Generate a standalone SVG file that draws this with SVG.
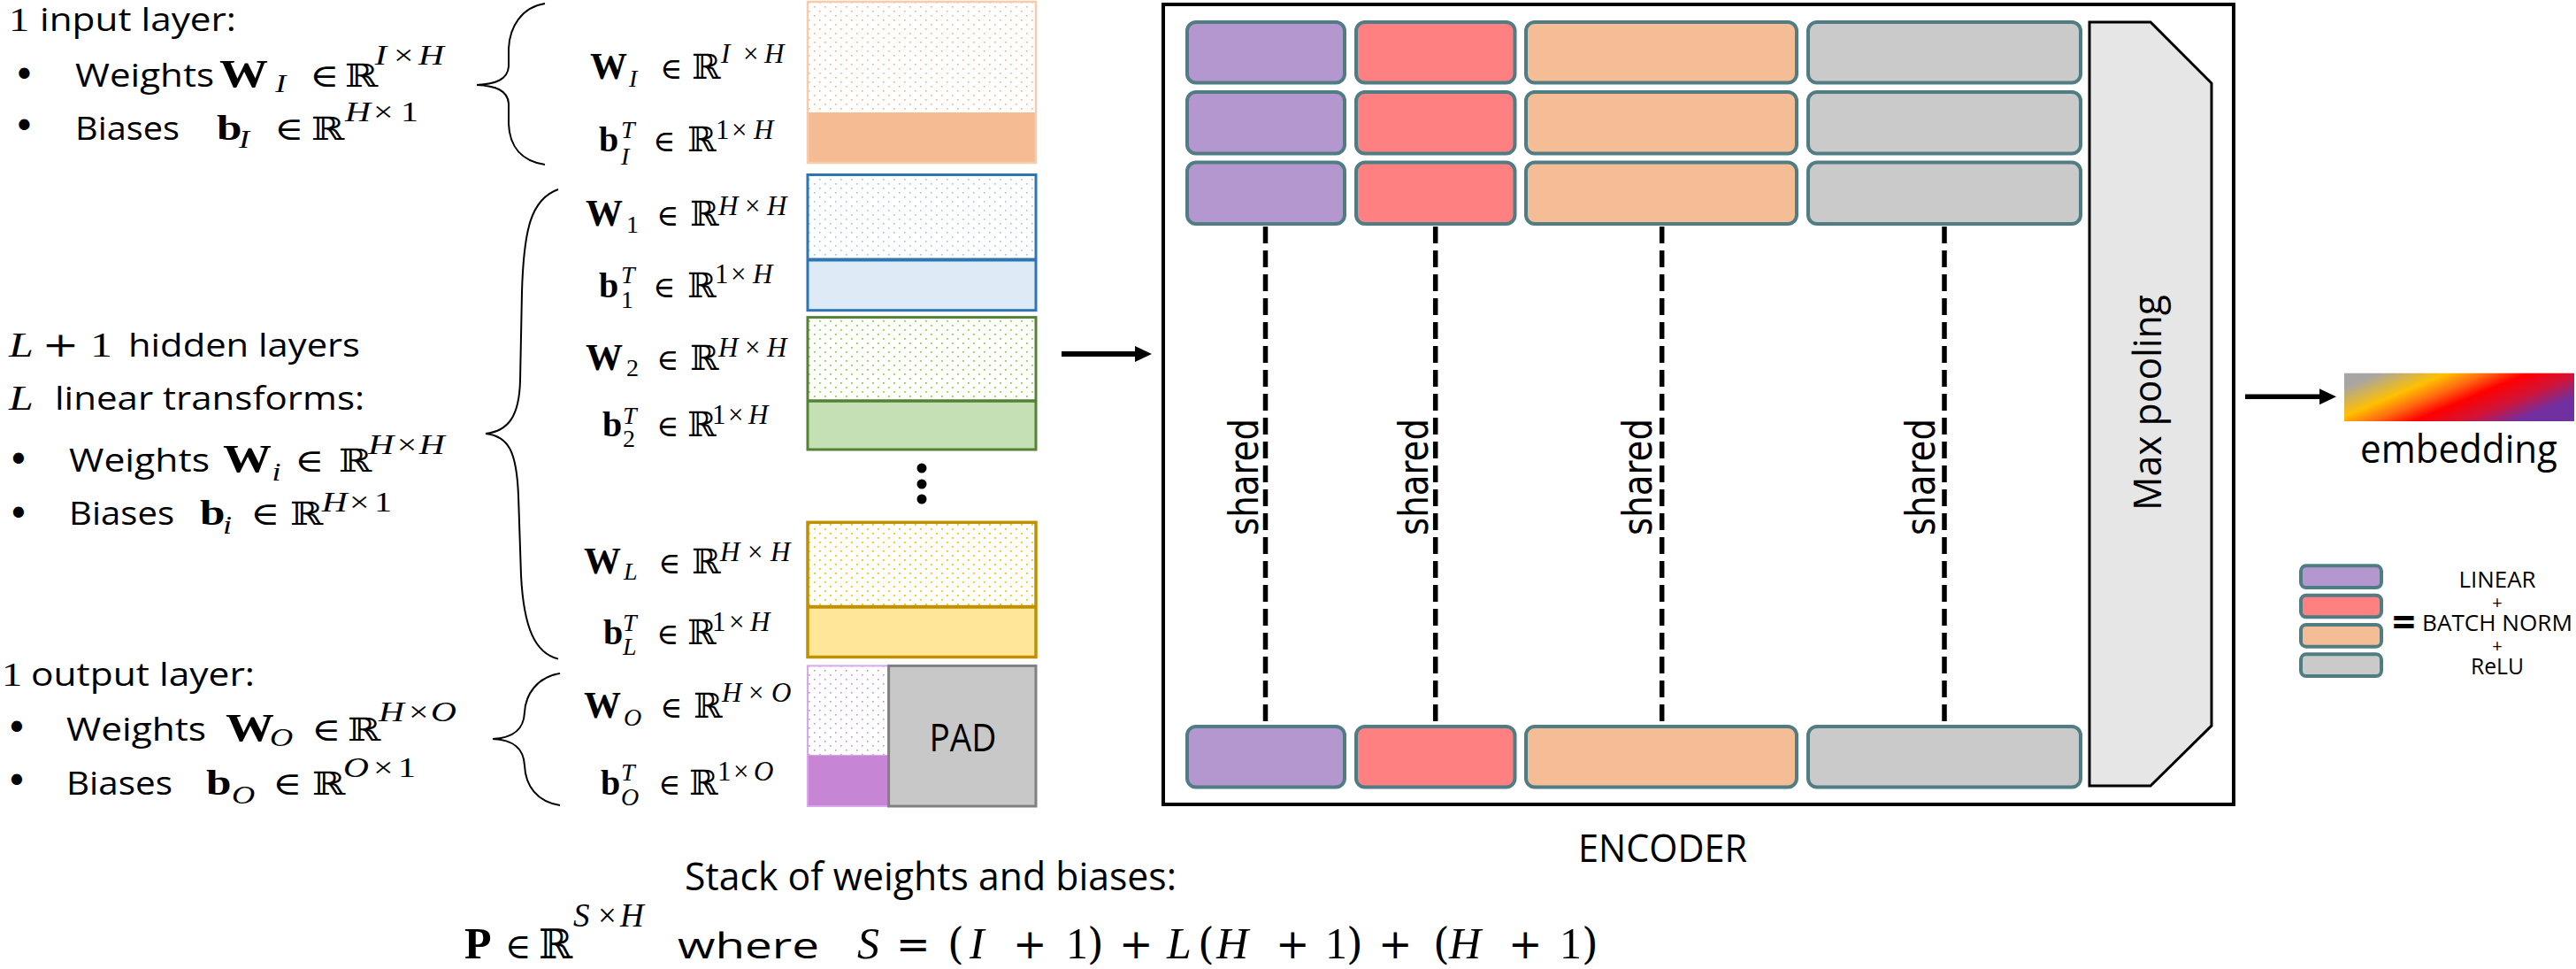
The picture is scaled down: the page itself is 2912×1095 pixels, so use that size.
<svg xmlns="http://www.w3.org/2000/svg" width="2912" height="1095" viewBox="0 0 2912 1095">
<defs>
<style>
.os{font-family:"Open Sans","Liberation Sans",sans-serif;fill:#000}
.dj{font-family:"DejaVu Sans","Liberation Sans",sans-serif;fill:#000}
.m{font-family:"Liberation Serif","DejaVu Serif",serif;fill:#000}
.bf{font-weight:bold}
.it{font-style:italic}
.sym{font-family:"DejaVu Serif","DejaVu Sans",serif;font-style:normal;font-weight:normal}
.blk{stroke:#507C84;stroke-width:4}
.pu{fill:#B497CF}.rd{fill:#FF8080}.or{fill:#F5BD95}.gy{fill:#CACACA}
.dash{stroke:#000;stroke-width:5.5;stroke-dasharray:19 8;fill:none}
.brace{stroke:#000;stroke-width:2;fill:none}
.arr{stroke:#000;fill:none;marker-end:url(#ah)}
</style>
<marker id="ah" markerUnits="userSpaceOnUse" markerWidth="19" markerHeight="18" refX="0" refY="9" orient="auto" viewBox="0 0 19 18"><path d="M0,0 L19,9 L0,18 z" fill="#000"/></marker>
<pattern id="dotOr" width="12" height="10" patternUnits="userSpaceOnUse"><rect width="12" height="10" fill="#fff"/><rect x="2" y="2" width="1.6" height="1.6" fill="#F4B183"/><rect x="8" y="7" width="1.6" height="1.6" fill="#F4B183"/></pattern>
<pattern id="dotBl" width="12" height="10" patternUnits="userSpaceOnUse"><rect width="12" height="10" fill="#fff"/><rect x="2" y="2" width="1.6" height="1.6" fill="#9DC3E6"/><rect x="8" y="7" width="1.6" height="1.6" fill="#9DC3E6"/></pattern>
<pattern id="dotGr" width="12" height="10" patternUnits="userSpaceOnUse"><rect width="12" height="10" fill="#fff"/><rect x="2" y="2" width="1.8" height="1.8" fill="#92D050"/><rect x="8" y="7" width="1.8" height="1.8" fill="#92D050"/></pattern>
<pattern id="dotYe" width="12" height="10" patternUnits="userSpaceOnUse"><rect width="12" height="10" fill="#fff"/><rect x="2" y="2" width="1.8" height="1.8" fill="#FFC000"/><rect x="8" y="7" width="1.8" height="1.8" fill="#FFC000"/></pattern>
<pattern id="dotPu" width="12" height="10" patternUnits="userSpaceOnUse"><rect width="12" height="10" fill="#fff"/><rect x="2" y="2" width="1.6" height="1.6" fill="#C58ED8"/><rect x="8" y="7" width="1.6" height="1.6" fill="#C58ED8"/></pattern>
<linearGradient id="emb" x1="0" y1="0" x2="1" y2="0.5">
<stop offset="0" stop-color="#A6A6A6"/><stop offset="0.12" stop-color="#A8A6A2"/><stop offset="0.36" stop-color="#FFC000"/><stop offset="0.5" stop-color="#FF6A10"/><stop offset="0.64" stop-color="#FF0000"/><stop offset="0.82" stop-color="#D01438"/><stop offset="1" stop-color="#7030A0"/>
</linearGradient>
</defs>
<rect width="2912" height="1095" fill="#fff"/>

<!-- bullets -->
<g id="bullets" class="dj" font-size="42" text-anchor="middle">
<text x="27.5" y="98.5">•</text><text x="27.5" y="157">•</text>
<text x="21" y="533.5">•</text><text x="21" y="595">•</text>
<text x="19" y="837">•</text><text x="19" y="897">•</text>
</g>

<g transform="scale(1.25 1)">
<g id="input-layer-text">
<text class="m" x="8" y="35" font-size="37">1</text>
<text class="os" x="36" y="35" font-size="37" textLength="177.6" lengthAdjust="spacingAndGlyphs">input layer:</text>
<text class="os" x="68" y="98" font-size="37" textLength="125.6" lengthAdjust="spacingAndGlyphs">Weights</text>
<text class="m" font-size="41"><tspan x="198.4" y="98" class="bf" font-size="44">W</tspan><tspan x="249" y="104" class="it" font-size="29">I</tspan><tspan x="280" y="98" class="sym" font-size="36">∈</tspan><tspan x="312" y="98" class="sym" font-size="36">ℝ</tspan><tspan x="339" y="73.3" class="it" font-size="32">I</tspan><tspan x="356" y="73.3" font-size="32">×</tspan><tspan x="378.4" y="73.3" class="it" font-size="32">H</tspan></text>
<text class="os" x="68" y="158.3" font-size="37" textLength="94.4" lengthAdjust="spacingAndGlyphs">Biases</text>
<text class="m" font-size="41"><tspan x="196" y="158.3" class="bf">b</tspan><tspan x="216" y="167" class="it" font-size="29">I</tspan><tspan x="248" y="158.3" class="sym" font-size="36">∈</tspan><tspan x="281.6" y="158.3" class="sym" font-size="36">ℝ</tspan><tspan x="312" y="136.7" class="it" font-size="32">H</tspan><tspan x="337.6" y="136.7" font-size="32">×</tspan><tspan x="362.4" y="136.7" font-size="32">1</tspan></text>
</g>
<g id="hidden-layers-text">
<text class="m" font-size="40"><tspan x="8" y="403.3" class="it">L</tspan><tspan x="38" y="403.3" class="sym">+</tspan><tspan x="81.6" y="403.3">1</tspan></text>
<text class="os" x="116" y="403.3" font-size="37" textLength="209.6" lengthAdjust="spacingAndGlyphs">hidden layers</text>
<text class="m it" x="8" y="463.3" font-size="40">L</text>
<text class="os" x="49.6" y="463.3" font-size="37" textLength="280" lengthAdjust="spacingAndGlyphs">linear transforms:</text>
<text class="os" x="62.4" y="533.3" font-size="37" textLength="127.2" lengthAdjust="spacingAndGlyphs">Weights</text>
<text class="m" font-size="41"><tspan x="201.6" y="533.3" class="bf" font-size="44">W</tspan><tspan x="246" y="543" class="it" font-size="29">i</tspan><tspan x="266.4" y="533.3" class="sym" font-size="36">∈</tspan><tspan x="306.4" y="533.3" class="sym" font-size="36">ℝ</tspan><tspan x="333" y="513" class="it" font-size="32">H</tspan><tspan x="359" y="513" font-size="32">×</tspan><tspan x="379" y="513" class="it" font-size="32">H</tspan></text>
<text class="os" x="62.4" y="593.3" font-size="37" textLength="95.2" lengthAdjust="spacingAndGlyphs">Biases</text>
<text class="m" font-size="41"><tspan x="180.8" y="593.3" class="bf">b</tspan><tspan x="201.6" y="603" class="it" font-size="29">i</tspan><tspan x="226.4" y="593.3" class="sym" font-size="36">∈</tspan><tspan x="262.4" y="593.3" class="sym" font-size="36">ℝ</tspan><tspan x="291" y="578.3" class="it" font-size="32">H</tspan><tspan x="316" y="578.3" font-size="32">×</tspan><tspan x="338.4" y="578.3" font-size="32">1</tspan></text>
</g>
<g id="output-layer-text">
<text class="m" x="1.6" y="775" font-size="37">1</text>
<text class="os" x="28" y="775" font-size="37" textLength="202.4" lengthAdjust="spacingAndGlyphs">output layer:</text>
<text class="os" x="60" y="836.7" font-size="37" textLength="126.4" lengthAdjust="spacingAndGlyphs">Weights</text>
<text class="m" font-size="41"><tspan x="204" y="836.7" class="bf" font-size="44">W</tspan><tspan x="244" y="843" class="it" font-size="29">O</tspan><tspan x="281.6" y="836.7" class="sym" font-size="36">∈</tspan><tspan x="314.4" y="836.7" class="sym" font-size="36">ℝ</tspan><tspan x="342.5" y="815" class="it" font-size="32">H</tspan><tspan x="369.6" y="815" font-size="32">×</tspan><tspan x="389.6" y="815" class="it" font-size="32">O</tspan></text>
<text class="os" x="60" y="898.3" font-size="37" textLength="96" lengthAdjust="spacingAndGlyphs">Biases</text>
<text class="m" font-size="41"><tspan x="186.4" y="898.3" class="bf">b</tspan><tspan x="209.6" y="908" class="it" font-size="29">O</tspan><tspan x="246.4" y="898.3" class="sym" font-size="36">∈</tspan><tspan x="282.4" y="898.3" class="sym" font-size="36">ℝ</tspan><tspan x="310.5" y="878" class="it" font-size="32">O</tspan><tspan x="337.6" y="878" font-size="32">×</tspan><tspan x="360" y="878" font-size="32">1</tspan></text>
</g>
</g>

<!-- parameter labels (middle column) -->
<g id="param-labels" class="m" font-size="40">
<text><tspan x="667" y="88.6" class="bf" font-size="42">W</tspan><tspan x="711" y="98" class="it" font-size="28">I</tspan><tspan x="746" y="88.6" class="sym" font-size="34">∈</tspan><tspan x="782" y="88.6" class="sym" font-size="39">ℝ</tspan><tspan x="815" y="71.4" class="it" font-size="31">I</tspan><tspan x="840" y="71.4" font-size="31">×</tspan><tspan x="864" y="71.4" class="it" font-size="31">H</tspan></text>
<text><tspan x="677" y="171.4" class="bf">b</tspan><tspan x="702" y="156" class="it" font-size="28">T</tspan><tspan x="702" y="185.7" class="it" font-size="28">I</tspan><tspan x="738" y="171.4" class="sym" font-size="34">∈</tspan><tspan x="777" y="171.4" class="sym" font-size="39">ℝ</tspan><tspan x="809" y="157" font-size="31">1</tspan><tspan x="827" y="157" font-size="31">×</tspan><tspan x="852" y="157" class="it" font-size="31">H</tspan></text>
<text><tspan x="662" y="255.4" class="bf" font-size="42">W</tspan><tspan x="708" y="262.5" font-size="28">1</tspan><tspan x="742" y="255.4" class="sym" font-size="34">∈</tspan><tspan x="780" y="255.4" class="sym" font-size="39">ℝ</tspan><tspan x="812" y="243" class="it" font-size="31">H</tspan><tspan x="842" y="243" font-size="31">×</tspan><tspan x="867" y="243" class="it" font-size="31">H</tspan></text>
<text><tspan x="677" y="335.7" class="bf">b</tspan><tspan x="702" y="320" class="it" font-size="28">T</tspan><tspan x="702" y="348" font-size="28">1</tspan><tspan x="738" y="335.7" class="sym" font-size="34">∈</tspan><tspan x="777" y="335.7" class="sym" font-size="39">ℝ</tspan><tspan x="808" y="319.6" font-size="31">1</tspan><tspan x="826" y="319.6" font-size="31">×</tspan><tspan x="851" y="319.6" class="it" font-size="31">H</tspan></text>
<text><tspan x="662" y="418" class="bf" font-size="42">W</tspan><tspan x="708" y="425" font-size="28">2</tspan><tspan x="742" y="418" class="sym" font-size="34">∈</tspan><tspan x="780" y="418" class="sym" font-size="39">ℝ</tspan><tspan x="812" y="403" class="it" font-size="31">H</tspan><tspan x="842" y="403" font-size="31">×</tspan><tspan x="867" y="403" class="it" font-size="31">H</tspan></text>
<text><tspan x="681" y="492.9" class="bf">b</tspan><tspan x="704" y="478.6" class="it" font-size="28">T</tspan><tspan x="704" y="505" font-size="28">2</tspan><tspan x="742" y="492.9" class="sym" font-size="34">∈</tspan><tspan x="777" y="492.9" class="sym" font-size="39">ℝ</tspan><tspan x="805" y="478.6" font-size="31">1</tspan><tspan x="823" y="478.6" font-size="31">×</tspan><tspan x="846" y="478.6" class="it" font-size="31">H</tspan></text>
<text><tspan x="660" y="648" class="bf" font-size="42">W</tspan><tspan x="705" y="655" class="it" font-size="28">L</tspan><tspan x="744" y="648" class="sym" font-size="34">∈</tspan><tspan x="782" y="648" class="sym" font-size="39">ℝ</tspan><tspan x="814" y="633.8" class="it" font-size="31">H</tspan><tspan x="845" y="633.8" font-size="31">×</tspan><tspan x="871" y="633.8" class="it" font-size="31">H</tspan></text>
<text><tspan x="682" y="727.6" class="bf">b</tspan><tspan x="704" y="712.7" class="it" font-size="28">T</tspan><tspan x="704" y="740" class="it" font-size="28">L</tspan><tspan x="742" y="727.6" class="sym" font-size="34">∈</tspan><tspan x="777" y="727.6" class="sym" font-size="39">ℝ</tspan><tspan x="805" y="712.7" font-size="31">1</tspan><tspan x="824" y="712.7" font-size="31">×</tspan><tspan x="848" y="712.7" class="it" font-size="31">H</tspan></text>
<text><tspan x="660" y="810.8" class="bf" font-size="42">W</tspan><tspan x="705" y="819.6" class="it" font-size="28">O</tspan><tspan x="746" y="810.8" class="sym" font-size="34">∈</tspan><tspan x="784" y="810.8" class="sym" font-size="39">ℝ</tspan><tspan x="816" y="793" class="it" font-size="31">H</tspan><tspan x="846" y="793" font-size="31">×</tspan><tspan x="872" y="793" class="it" font-size="31">O</tspan></text>
<text><tspan x="679" y="897.5" class="bf">b</tspan><tspan x="702" y="881.6" class="it" font-size="28">T</tspan><tspan x="702" y="910" class="it" font-size="28">O</tspan><tspan x="744" y="897.5" class="sym" font-size="34">∈</tspan><tspan x="779" y="897.5" class="sym" font-size="39">ℝ</tspan><tspan x="811" y="881.6" font-size="31">1</tspan><tspan x="829" y="881.6" font-size="31">×</tspan><tspan x="852" y="881.6" class="it" font-size="31">O</tspan></text>
</g>

<!-- parameter blocks -->
<g id="param-input">
<rect x="913" y="2" width="258" height="125" fill="url(#dotOr)"/>
<rect x="913" y="127" width="258" height="57" fill="#F5BC94"/>
<rect x="913" y="2" width="258" height="182" fill="none" stroke="#F8CBAD" stroke-width="2.5"/>
</g>
<g id="param-hidden1">
<rect x="913" y="197.5" width="258" height="96" fill="url(#dotBl)"/>
<rect x="913" y="293.6" width="258" height="57" fill="#DEEBF7"/>
<rect x="913" y="197.5" width="258" height="153.2" fill="none" stroke="#2E75B6" stroke-width="3"/>
<line x1="913" y1="293.6" x2="1171" y2="293.6" stroke="#2E75B6" stroke-width="4"/>
</g>
<g id="param-hidden2">
<rect x="913" y="358.6" width="258" height="94.3" fill="url(#dotGr)"/>
<rect x="913" y="452.9" width="258" height="55.1" fill="#C5E0B4"/>
<rect x="913" y="358.6" width="258" height="149.4" fill="none" stroke="#548235" stroke-width="3"/>
<line x1="913" y1="452.9" x2="1171" y2="452.9" stroke="#548235" stroke-width="3.5"/>
</g>
<g id="param-ellipsis" fill="#000">
<circle cx="1042" cy="529" r="5.5"/><circle cx="1042" cy="547" r="5.5"/><circle cx="1042" cy="564" r="5.5"/>
</g>
<g id="param-hiddenL">
<rect x="913" y="590.3" width="258" height="95.5" fill="url(#dotYe)"/>
<rect x="913" y="685.8" width="258" height="56.7" fill="#FFE699"/>
<rect x="913" y="590.3" width="258" height="152.2" fill="none" stroke="#BF9000" stroke-width="3.5"/>
<line x1="913" y1="685.8" x2="1171" y2="685.8" stroke="#BF9000" stroke-width="4"/>
</g>
<g id="param-output">
<rect x="913" y="752.4" width="91.6" height="100.9" fill="url(#dotPu)"/>
<rect x="913" y="853.3" width="91.6" height="57.7" fill="#C785D6"/>
<rect x="913" y="752.4" width="91.6" height="158.6" fill="none" stroke="#D9A8EA" stroke-width="2"/>
<rect x="1004.6" y="752.4" width="166.4" height="158.6" fill="#C8C8C8" stroke="#808080" stroke-width="3"/>
<text class="os" x="1050.5" y="848.7" font-size="43" textLength="76" lengthAdjust="spacingAndGlyphs">PAD</text>
</g>

<!-- encoder -->
<g id="encoder">
<rect x="1315" y="5" width="1210" height="904" fill="#fff" stroke="#000" stroke-width="4"/>
<text class="os" x="1784" y="973.6" font-size="44" textLength="191" lengthAdjust="spacingAndGlyphs">ENCODER</text>
</g>
<g id="enc-row1">
<rect class="blk pu" x="1342" y="25" width="178" height="68.6" rx="10"/>
<rect class="blk rd" x="1533" y="25" width="179.5" height="68.6" rx="10"/>
<rect class="blk or" x="1725" y="25" width="306" height="68.6" rx="10"/>
<rect class="blk gy" x="2044" y="25" width="308" height="68.6" rx="10"/>
</g>
<g id="enc-row2">
<rect class="blk pu" x="1342" y="104" width="178" height="69.6" rx="10"/>
<rect class="blk rd" x="1533" y="104" width="179.5" height="69.6" rx="10"/>
<rect class="blk or" x="1725" y="104" width="306" height="69.6" rx="10"/>
<rect class="blk gy" x="2044" y="104" width="308" height="69.6" rx="10"/>
</g>
<g id="enc-row3">
<rect class="blk pu" x="1342" y="183.6" width="178" height="69.4" rx="10"/>
<rect class="blk rd" x="1533" y="183.6" width="179.5" height="69.4" rx="10"/>
<rect class="blk or" x="1725" y="183.6" width="306" height="69.4" rx="10"/>
<rect class="blk gy" x="2044" y="183.6" width="308" height="69.4" rx="10"/>
</g>
<g id="enc-rowN">
<rect class="blk pu" x="1342" y="821" width="178" height="68.5" rx="10"/>
<rect class="blk rd" x="1533" y="821" width="179.5" height="68.5" rx="10"/>
<rect class="blk or" x="1725" y="821" width="306" height="68.5" rx="10"/>
<rect class="blk gy" x="2044" y="821" width="308" height="68.5" rx="10"/>
</g>
<g id="maxpool">
<polygon points="2362,25 2431,25 2500,94 2500,820 2431,888 2362,888" fill="#E6E6E6" stroke="#000" stroke-width="3"/>
<text class="os" transform="translate(2443 455) rotate(-90)" text-anchor="middle" font-size="44" textLength="244" lengthAdjust="spacingAndGlyphs">Max pooling</text>
</g>

<!-- connectors -->
<g id="connectors">
<path class="brace" d="M616,4 C590,8 576,30 575,55 L575,75 C574,90 560,95 539,96 C560,97 574,102 575,117 L575,140 C576,166 590,182 616,186"/>
<path class="brace" d="M631,214 C600,225 592,260 590,330 L588,430 C587,470 575,487 549,490 C575,493 584,510 586,560 L589,650 C592,710 605,738 631,744.6"/>
<path class="brace" d="M633,761 C607,765 594,785 593,805 C592,825 580,834 557,835 C580,836 592,845 593,865 C594,888 607,906 633,910"/>
<line class="arr" x1="1200" y1="400" x2="1283" y2="400" stroke-width="6"/>
<line class="arr" x1="2538" y1="448.3" x2="2622" y2="448.3" stroke-width="5.5"/>
<line class="dash" x1="1430.5" y1="256" x2="1430.5" y2="821"/>
<line class="dash" x1="1622.7" y1="256" x2="1622.7" y2="821"/>
<line class="dash" x1="1878.7" y1="256" x2="1878.7" y2="821"/>
<line class="dash" x1="2198" y1="256" x2="2198" y2="821"/>
</g>
<g id="shared-labels" class="dj" font-size="46" text-anchor="middle">
<text transform="translate(1422 539) rotate(-90)" textLength="132" lengthAdjust="spacingAndGlyphs">shared</text>
<text transform="translate(1614 539) rotate(-90)" textLength="132" lengthAdjust="spacingAndGlyphs">shared</text>
<text transform="translate(1867 539) rotate(-90)" textLength="132" lengthAdjust="spacingAndGlyphs">shared</text>
<text transform="translate(2187 539) rotate(-90)" textLength="132" lengthAdjust="spacingAndGlyphs">shared</text>
</g>

<g id="embedding">
<rect x="2650" y="421.7" width="260" height="54.3" fill="url(#emb)"/>
<text class="os" x="2668" y="523.3" font-size="43" textLength="223" lengthAdjust="spacingAndGlyphs">embedding</text>
</g>

<g id="legend">
<rect class="blk pu" x="2601" y="639.3" width="91" height="24.7" rx="6" stroke-width="3.5"/>
<rect class="blk rd" x="2601" y="672.7" width="91" height="24.6" rx="6" stroke-width="3.5"/>
<rect class="blk or" x="2601" y="706" width="91" height="24.7" rx="6" stroke-width="3.5"/>
<rect class="blk gy" x="2601" y="739.3" width="91" height="24.7" rx="6" stroke-width="3.5"/>
<text class="os" x="2717.5" y="720" font-size="46" font-weight="bold" text-anchor="middle">=</text>
<g class="os" font-size="26" text-anchor="middle">
<text x="2823" y="664" textLength="87" lengthAdjust="spacingAndGlyphs">LINEAR</text>
<text x="2823" y="688" font-size="20">+</text>
<text x="2823" y="713.3" textLength="170" lengthAdjust="spacingAndGlyphs">BATCH NORM</text>
<text x="2823" y="737" font-size="20">+</text>
<text x="2823" y="761.7" textLength="60" lengthAdjust="spacingAndGlyphs">ReLU</text>
</g>
</g>

<g id="stack-label">
<text class="os" x="774" y="1005.5" font-size="44" textLength="556" lengthAdjust="spacingAndGlyphs">Stack of weights and biases:</text>
</g>
<g id="equation">
<text class="m" font-size="50"><tspan x="525" y="1083.3" class="bf">P</tspan><tspan x="571" y="1083.3" class="sym" font-size="40">∈</tspan><tspan x="609" y="1083.3" class="sym" font-size="46">ℝ</tspan><tspan x="648" y="1046.7" class="it" font-size="37">S</tspan><tspan x="676" y="1046.7" font-size="37">×</tspan><tspan x="701" y="1046.7" class="it" font-size="37">H</tspan></text>
<text class="os" x="766" y="1083.3" font-size="40" textLength="160" lengthAdjust="spacingAndGlyphs">where</text>
<text class="m" font-size="50"><tspan x="969" y="1083.3" class="it">S</tspan><tspan x="1013" y="1083.3" class="sym" font-size="46">=</tspan><tspan x="1071" y="1083.3" class="sym" font-size="48">(</tspan><tspan x="1096" y="1083.3" class="it">I</tspan><tspan x="1145" y="1083.3" class="sym" font-size="46">+</tspan><tspan x="1205" y="1083.3">1</tspan><tspan x="1229" y="1083.3" class="sym" font-size="48">)</tspan><tspan x="1265" y="1083.3" class="sym" font-size="46">+</tspan><tspan x="1319" y="1083.3" class="it">L</tspan><tspan x="1354" y="1083.3" class="sym" font-size="48">(</tspan><tspan x="1375" y="1083.3" class="it">H</tspan><tspan x="1442" y="1083.3" class="sym" font-size="46">+</tspan><tspan x="1498" y="1083.3">1</tspan><tspan x="1522" y="1083.3" class="sym" font-size="48">)</tspan><tspan x="1558" y="1083.3" class="sym" font-size="46">+</tspan><tspan x="1620" y="1083.3" class="sym" font-size="48">(</tspan><tspan x="1638" y="1083.3" class="it">H</tspan><tspan x="1705" y="1083.3" class="sym" font-size="46">+</tspan><tspan x="1763" y="1083.3">1</tspan><tspan x="1788" y="1083.3" class="sym" font-size="48">)</tspan></text>
</g>
</svg>
